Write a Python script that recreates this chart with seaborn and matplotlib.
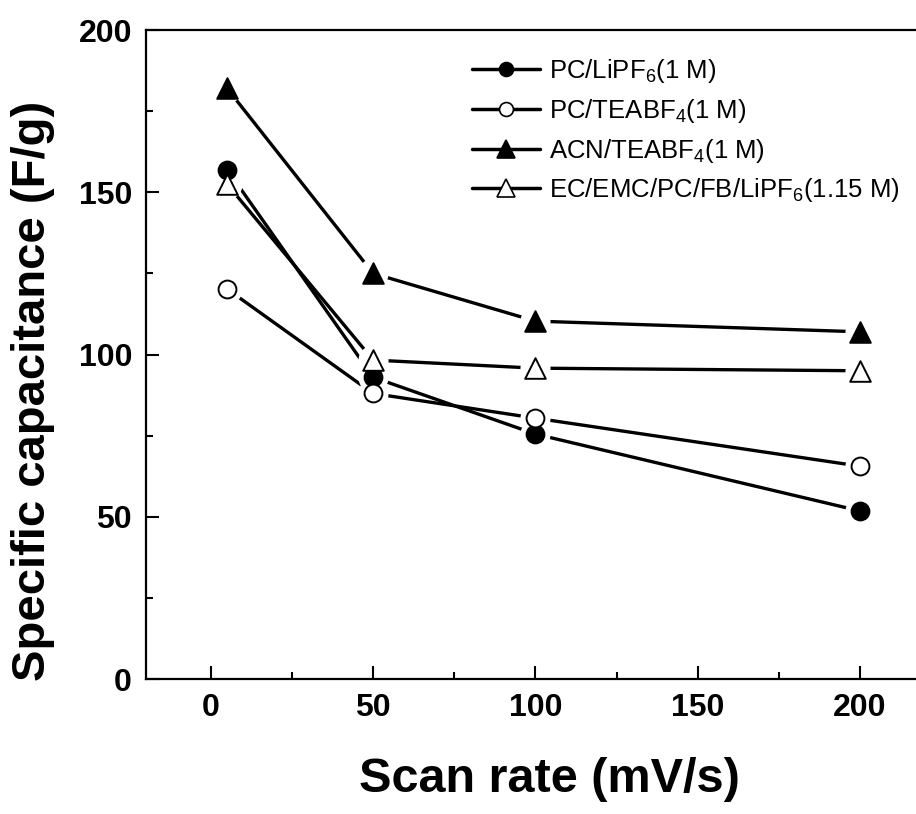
import matplotlib
matplotlib.use("Agg")
import matplotlib.pyplot as plt
import seaborn as sns
import pandas as pd
from matplotlib.lines import Line2D
from matplotlib.ticker import MultipleLocator

# datos
scan_rate = [5, 50, 100, 200]
pc_lipf6 = [157, 93, 75.5, 51.8]
pc_teabf4 = [120.2, 88, 80.4, 65.6]
acn_teabf4 = [182, 125, 110.3, 107]
ec_mix_lipf6 = [152.5, 98.3, 95.8, 95]

series_names = ["PC/LiPF$_6$(1 M)", "PC/TEABF$_4$(1 M)",
                "ACN/TEABF$_4$(1 M)", "EC/EMC/PC/FB/LiPF$_6$(1.15 M)"]
series_values = [pc_lipf6, pc_teabf4, acn_teabf4, ec_mix_lipf6]
markers = ["o", "o", "^", "^"]
faces = ["black", "white", "black", "white"]

df = pd.concat([pd.DataFrame({"rate": scan_rate, "cap": v, "serie": n})
                for n, v in zip(series_names, series_values)], ignore_index=True)

sns.set_style("ticks")
plt.rcParams["font.family"] = ["Liberation Sans", "DejaVu Sans"]
plt.rcParams["mathtext.default"] = "regular"
for k in ["text.color", "axes.labelcolor", "xtick.color", "ytick.color", "axes.edgecolor"]:
    plt.rcParams[k] = "black"

fig = plt.figure(figsize=(9.16, 8.14), dpi=100)
ax = fig.add_axes([0.1594, 0.1658, 0.8856, 0.7973])

for name, mk, fc in zip(series_names, markers, faces):
    sub = df[df["serie"] == name]
    sns.lineplot(data=sub, x="rate", y="cap", color="black", lw=2.4,
                 ax=ax, zorder=2, legend=False)
    # halo blanco para separar la linea del marcador
    sns.scatterplot(data=sub, x="rate", y="cap", color="white", s=470,
                    linewidth=0, marker="o", ax=ax, zorder=3, legend=False)
    size = 165 if mk == "o" else 220
    sns.scatterplot(data=sub, x="rate", y="cap", marker=mk, s=size,
                    facecolor=fc, edgecolor="black", linewidth=1.4,
                    ax=ax, zorder=4, legend=False)

ax.set_xlim(-20, 230)
ax.set_ylim(0, 200)
ax.xaxis.set_major_locator(MultipleLocator(50))
ax.xaxis.set_minor_locator(MultipleLocator(25))
ax.yaxis.set_major_locator(MultipleLocator(50))
ax.yaxis.set_minor_locator(MultipleLocator(25))
ax.tick_params(which="both", direction="in", width=1.5, top=False, right=False)
ax.tick_params(which="major", length=9.5, pad=10, labelsize=23)
ax.tick_params(which="minor", length=5)
for lab in ax.get_xticklabels() + ax.get_yticklabels():
    lab.set_fontweight("bold")
for sp in ax.spines.values():
    sp.set_linewidth(1.6)

ax.set_xlabel("Scan rate (mV/s)", fontweight="bold", fontsize=35)
ax.set_ylabel("Specific capacitance (F/g)", fontweight="bold", fontsize=34)
ax.xaxis.set_label_coords(0.497, -0.12)
ax.yaxis.set_label_coords(-0.112, 0.444)

handles = [Line2D([], [], color="black", lw=2.5, marker=mk,
                  markersize=10 if mk == "o" else 13,
                  markerfacecolor=fc, markeredgecolor="black", markeredgewidth=1.2)
           for mk, fc in zip(markers, faces)]
ax.legend(handles, series_names, loc="upper left",
          bbox_to_anchor=(472 / 916, 1 - 57 / 814), bbox_transform=fig.transFigure,
          frameon=False, prop={"size": 18.5},
          handlelength=2.65, handletextpad=0.35, labelspacing=0.46,
          borderpad=0, borderaxespad=0)

plt.savefig("out.png", dpi=100)
plt.close()
